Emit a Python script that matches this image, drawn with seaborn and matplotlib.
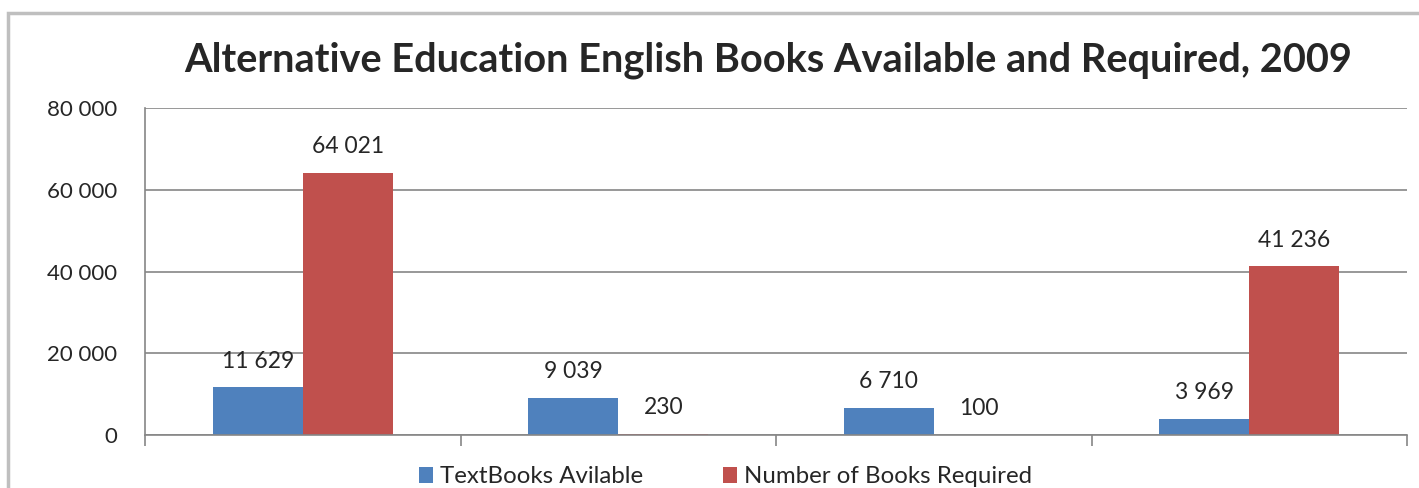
import pandas as pd
import matplotlib.pyplot as plt
import seaborn as sns
from matplotlib.ticker import FuncFormatter, FixedLocator
from matplotlib.patches import Rectangle

# Data (four unlabeled groups)
groups = ['G1', 'G2', 'G3', 'G4']
textbooks_available = [11629, 9039, 6710, 3969]
books_required = [64021, 230, 100, 41236]
series_names = ['TextBooks Avilable', 'Number of Books Required']
colors = ['#4F81BD', '#C0504D']

df = pd.DataFrame({
    'group': groups * 2,
    'value': textbooks_available + books_required,
    'series': [series_names[0]] * 4 + [series_names[1]] * 4,
})

sns.set_style('white')
plt.rcParams['font.family'] = ['Lato', 'DejaVu Sans']

fig = plt.figure(figsize=(14.19, 4.88), dpi=100)
ax = fig.add_axes([145 / 1419, 53 / 488, 1262 / 1419, 327 / 488])

# outer chart frame
fig.patches.append(Rectangle((8 / 1419, -0.1), 1.2, (488 - 13) / 488 + 0.1,
                             transform=fig.transFigure, fill=False,
                             edgecolor='#BFBFBF', linewidth=2.5))

sns.barplot(data=df, x='group', y='value', hue='series', palette=colors,
            width=0.57, ax=ax, saturation=1, legend=True, linewidth=0)

ax.set_xlim(-0.5, 3.5)
ax.set_ylim(0, 80000)
ax.set_yticks([0, 20000, 40000, 60000, 80000])
ax.yaxis.set_major_formatter(FuncFormatter(lambda v, p: f'{int(v):,}'.replace(',', ' ')))
ax.yaxis.grid(True, color='#868686', linewidth=1.2)
ax.set_axisbelow(True)

ax.xaxis.set_major_locator(FixedLocator([-0.5, 0.5, 1.5, 2.5, 3.5]))
ax.set_xticklabels([])
ax.tick_params(axis='x', length=8, width=1.2, color='#868686', direction='out', bottom=True)
ax.tick_params(axis='y', length=0, labelsize=16, pad=20)
ax.set_xlabel('')
ax.set_ylabel('')

for side in ['top', 'right']:
    ax.spines[side].set_visible(False)
for side in ['left', 'bottom']:
    ax.spines[side].set_color('#868686')
    ax.spines[side].set_linewidth(1.2)

# value labels above bars
for container in ax.containers:
    for bar in container:
        h = bar.get_height()
        ax.annotate(f'{int(h):,}'.replace(',', ' '),
                    (bar.get_x() + bar.get_width() / 2, h),
                    xytext=(0, 19), textcoords='offset points',
                    ha='center', va='center', fontsize=16.5)

ax.legend(loc='upper center', bbox_to_anchor=(0.46, -0.03), ncol=2, frameon=False,
          fontsize=17.3, handlelength=0.6, handleheight=0.6, handletextpad=0.3,
          columnspacing=3.3)

fig.suptitle('Alternative Education English Books Available and Required, 2009',
             x=768 / 1419, y=(488 - 60) / 488, va='center', fontsize=28.6,
             fontweight='bold')

fig.savefig('out.png', dpi=100)
